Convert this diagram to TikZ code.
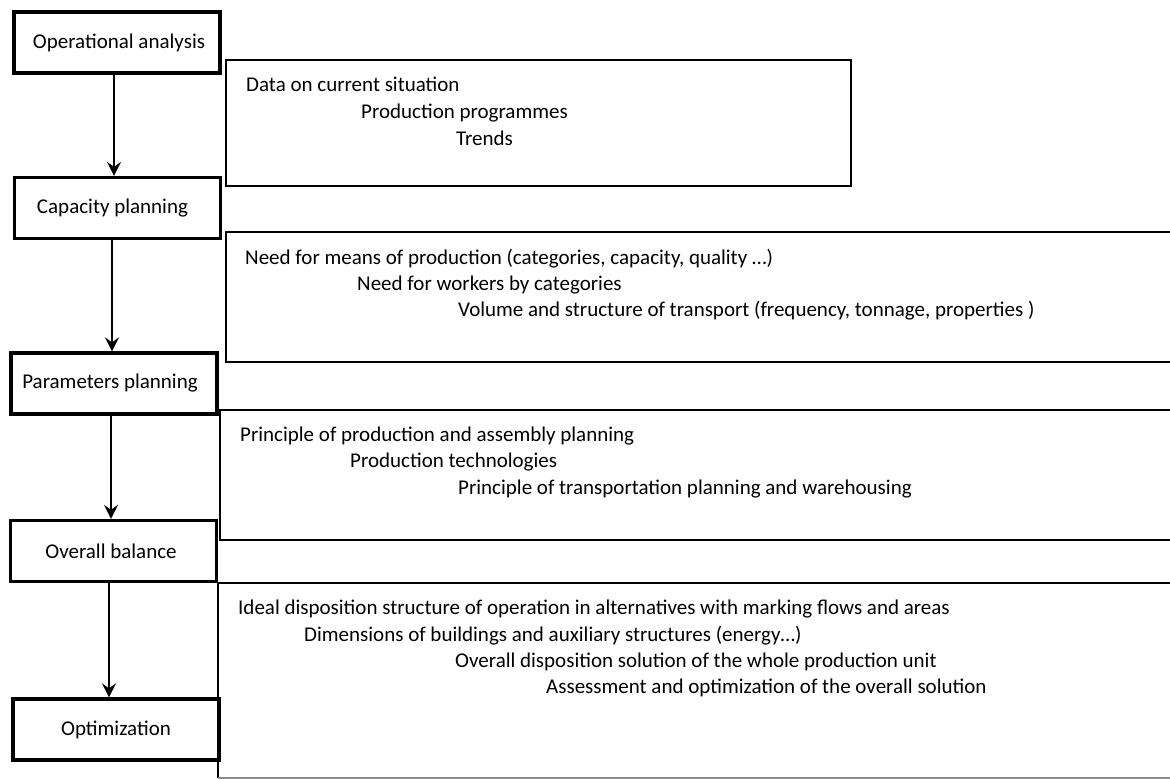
\documentclass[tikz,border=0pt]{standalone}
\usepackage{fontspec}
\setmainfont{Carlito}
\usetikzlibrary{arrows.meta}
\tikzset{
  stage/.style={draw, line width=3.3pt, minimum width=206pt, minimum height=61pt, inner sep=0pt, font=\fontsize{21}{25}\selectfont},
  nudge/.style={execute at begin node={\kern#1}},
  infobox/.style={draw, line width=1.3pt},
  item/.style={anchor=base west, inner sep=0pt, font=\fontsize{21}{25}\selectfont},
  flow/.style={line width=2pt, -{Stealth[length=14pt, width=14pt, inset=5pt]}},
}
\begin{document}
\begin{tikzpicture}[x=1pt, y=-1pt]
\useasboundingbox (0,0) rectangle (1170,779);
\clip (0,0) rectangle (1170,779);

% stages of the procedure
\node[stage, nudge=4pt]   (op)  at (117,42.5)  {Operational analysis};
\node[stage, nudge=-10pt] (cap) at (117.5,208) {Capacity planning};
\node[stage, nudge=-8pt]  (par) at (114,383.5) {Parameters planning};
\node[stage, nudge=-5pt]  (bal) at (113.5,551) {Overall balance};
\node[stage]              (opt) at (116,729.5) {Optimization};

% arrow columns
\coordinate (c1) at (114,0);
\coordinate (c2) at (112,0);
\coordinate (c3) at (111,0);
\coordinate (c4) at (109,0);
\draw[flow] (op.south -| c1) -- (cap.north -| c1);
\draw[flow] (cap.south -| c2) -- (par.north -| c2);
\draw[flow] (par.south -| c3) -- (bal.north -| c3);
\draw[flow] (bal.south -| c4) -- (opt.north -| c4);

% outputs of each stage
\draw[infobox] (226,60) rectangle (851,186);
\draw[infobox] (1190,232) -- (226,232) -- (226,362) -- (1190,362);
\draw[infobox] (1190,410) -- (220,410) -- (220,540) -- (1190,540);
\draw[infobox] (1190,583) -- (218,583) -- (218,778);
\draw[line width=1.3pt, black!45] (218,778) -- (1190,778);

\node[item] (a1) at (246,91)  {Data on current situation};
\node[item] (a2) at (361,118) {Production programmes};
\node[item] (a3) at (456,145) {Trends};

\node[item] (b1) at (245,264) {Need for means of production (categories, capacity, quality …)};
\node[item] (b2) at (357,290) {Need for workers by categories};
\node[item] (b3) at (458,316) {Volume and structure of transport (frequency, tonnage, properties )};

\node[item] (p1) at (240,441) {Principle of production and assembly planning};
\node[item] (p2) at (350,467) {Production technologies};
\node[item] (p3) at (458,494) {Principle of transportation planning and warehousing};

\node[item] (d1) at (238,614) {Ideal disposition structure of operation in alternatives with marking flows and areas};
\node[item] (d2) at (304,641) {Dimensions of buildings and auxiliary structures (energy…)};
\node[item] (d3) at (455,667) {Overall disposition solution of the whole production unit};
\node[item] (d4) at (546,693) {Assessment and optimization of the overall solution};
\end{tikzpicture}
\end{document}
